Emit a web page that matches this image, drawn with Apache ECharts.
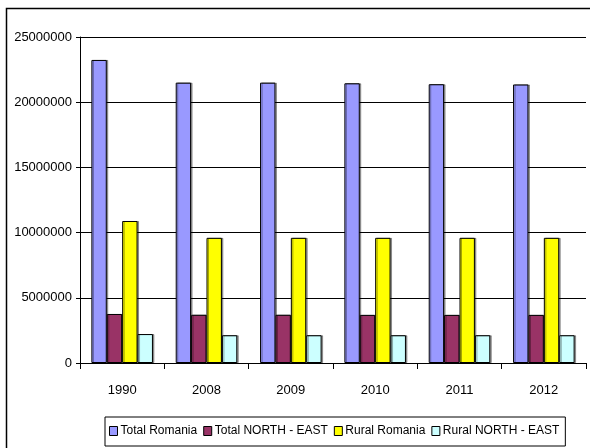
<!DOCTYPE html>
<html>
<head>
<meta charset="utf-8">
<script src="https://cdn.jsdelivr.net/npm/echarts@6/dist/echarts.min.js"></script>
<style>
html,body{margin:0;padding:0;background:#fff;}
#chart{width:590px;height:448px;}
</style>
</head>
<body>
<div id="chart"></div>
<script>
const categories = ['1990', '2008', '2009', '2010', '2011', '2012'];
const totalRomania = [23240000, 21500000, 21500000, 21450000, 21380000, 21360000];
const totalNorthEast = [3760000, 3700000, 3700000, 3690000, 3690000, 3690000];
const ruralRomania = [10890000, 9600000, 9600000, 9600000, 9600000, 9600000];
const ruralNorthEast = [2220000, 2130000, 2130000, 2130000, 2130000, 2130000];
const seriesNames = ['Total Romania', 'Total NORTH - EAST', 'Rural Romania', 'Rural NORTH - EAST'];
const colors = ['#9999FF', '#993366', '#FFFF00', '#CCFFFF'];
const yTicks = [0, 5000000, 10000000, 15000000, 20000000, 25000000];

const chart = echarts.init(document.getElementById('chart'));
const font = '"Liberation Sans", Arial, sans-serif';
function mk(name, data, color) {
  return {
    name: name, type: 'bar', data: data,
    barGap: '0%', barCategoryGap: '27%',
    itemStyle: {color: color, borderColor: '#000', borderWidth: 1,
      shadowColor: 'rgba(0,0,0,0.35)', shadowOffsetX: 1.5, shadowOffsetY: 0, shadowBlur: 0},
    emphasis: {disabled: true}
  };
}
chart.setOption({
  animation: false,
  backgroundColor: '#fff',
  textStyle: {fontFamily: font},
  graphic: [{
    type: 'rect', silent: true,
    shape: {x: 6.5, y: 8.5, width: 620, height: 500},
    style: {fill: 'none', stroke: '#000', lineWidth: 1.5}
  }],
  grid: {left: 80, right: 4, top: 37, bottom: 85, containLabel: false},
  legend: {
    left: 105, top: 417,
    data: seriesNames,
    itemWidth: 8, itemHeight: 9, itemGap: 6,
    icon: 'rect',
    padding: [8, 6, 9, 4],
    borderColor: '#000', borderWidth: 1,
    textStyle: {fontFamily: font, fontSize: 12, color: '#000', padding: [0, 0, 0, -2]},
    itemStyle: {borderColor: '#000', borderWidth: 1}
  },
  xAxis: {
    type: 'category', data: categories,
    axisLine: {lineStyle: {color: '#000', width: 1}},
    axisTick: {show: true, length: 6, alignWithLabel: false, lineStyle: {color: '#000'}},
    axisLabel: {color: '#000', fontSize: 13, fontFamily: font, margin: 21}
  },
  yAxis: {
    type: 'value', min: 0, max: 25000000, interval: 5000000,
    axisLine: {show: true, lineStyle: {color: '#000', width: 1}},
    axisTick: {show: true, length: 4, lineStyle: {color: '#000'}},
    axisLabel: {color: '#000', fontSize: 13, fontFamily: font, margin: 8,
      formatter: function (v) { return yTicks.indexOf(v) >= 0 ? String(v) : ''; }},
    splitLine: {show: true, lineStyle: {color: '#000', width: 1}}
  },
  series: [
    mk(seriesNames[0], totalRomania, colors[0]),
    mk(seriesNames[1], totalNorthEast, colors[1]),
    mk(seriesNames[2], ruralRomania, colors[2]),
    mk(seriesNames[3], ruralNorthEast, colors[3])
  ]
});
</script>
</body>
</html>
